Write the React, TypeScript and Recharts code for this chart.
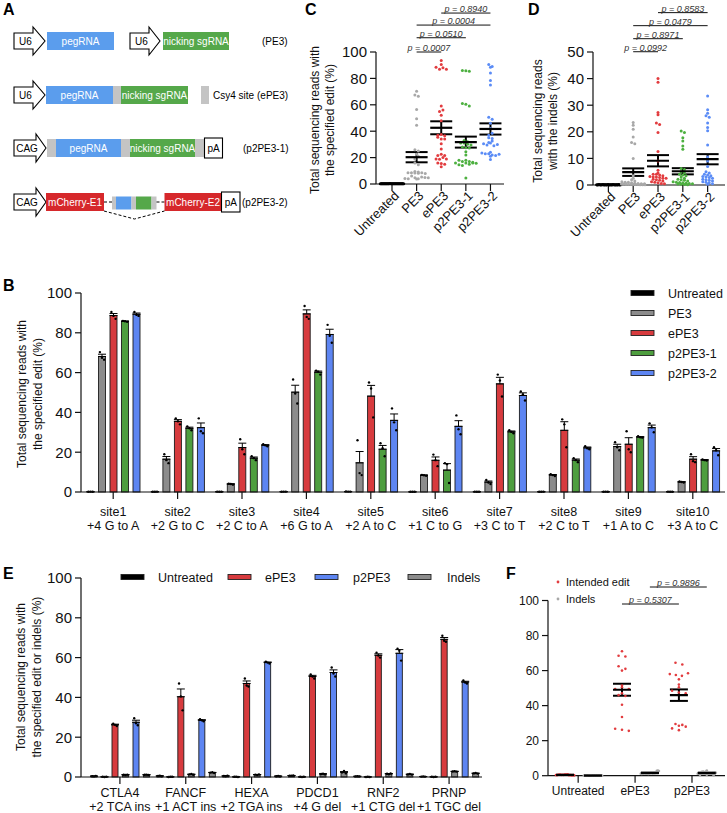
import React from 'react';
import { BarChart, Bar, XAxis, YAxis, ErrorBar, ScatterChart, Scatter, ReferenceLine } from 'recharts';

const FONT = '"Liberation Sans", Arial, Helvetica, sans-serif';

// ---------- B: % reads with the specified edit, 3 replicates per site ----------
const SITES = ['site1', 'site2', 'site3', 'site4', 'site5', 'site6', 'site7', 'site8', 'site9', 'site10'];
const SITE_EDITS = ['+4 G to A', '+2 G to C', '+2 C to A', '+6 G to A', '+2 A to C', '+1 C to G', '+3 C to T', '+2 C to T', '+1 A to C', '+3 A to C'];
const bUntreated = [[0.1, 0.2, 0.1], [0.1, 0.1, 0.2], [0.2, 0.1, 0.1], [0.1, 0.2, 0.2], [0.3, 0.2, 0.2], [0.1, 0.1, 0.1], [0.2, 0.1, 0.1], [0.1, 0.1, 0.2], [0.1, 0.2, 0.1], [0.2, 0.1, 0.1]];
const bPE3 = [[70.3, 67.5, 66.5], [19, 16, 14.5], [4.2, 4, 3.7], [56.5, 49.5, 44.5], [26, 9.5, 8.5], [8.6, 8.4, 8.2], [6, 4.8, 4], [9, 8.5, 8], [25, 22.5, 21], [5.3, 5, 4.8]];
const bEPE3 = [[90.5, 88.5, 87], [37, 35.5, 34], [26.5, 21.5, 19], [93.5, 88, 87], [55, 52, 37.5], [18.8, 16, 13], [59, 56, 48], [36.5, 34, 22.5], [30.5, 21.5, 20], [19, 15.5, 15]];
const bP2PE3_1 = [[86, 85.8, 85.5], [33, 32, 31], [18, 17, 16], [61, 60.5, 59], [24.5, 22, 18], [14.5, 14, 4.5], [31, 30.2, 29.5], [17, 16, 15], [28, 27.5, 27.3], [16.4, 16, 15.8]];
const bP2PE3_2 = [[90.5, 89, 88.5], [37, 30.5, 29.5], [24, 23.5, 23], [84, 78.5, 75], [42, 35, 31], [38.5, 31.5, 29], [50.5, 49, 46], [23, 22, 21.5], [34.5, 32.5, 30], [22.5, 21, 18.5]];

// ---------- C / D ----------
const GROUPS_CD = ['Untreated', 'PE3', 'ePE3', 'p2PE3-1', 'p2PE3-2'];
const dUntreated = [0.1, 0, 0.1, 0.2, 0.1, 0, 0.1, 0.1, 0.2, 0, 0.1, 0.1, 0, 0.1, 0.2, 0.1, 0, 0.1, 0.1, 0, 0.2, 0.1, 0.1, 0, 0.1, 0.1, 0, 0.2, 0.1, 0];
const dPE3 = [23.5, 22.5, 21, 18, 16, 15.5, 10, 3.5, 2.5, 2, 1.5, 1.2, 1, 1, 0.8, 0.7, 0.6, 0.5, 0.5, 0.4, 0.4, 0.3, 0.3, 0.3, 0.2, 0.2, 0.2, 0.1, 0.1, 0.1];
const dEPE3 = [40, 38.6, 27.3, 26.4, 23.3, 22.7, 19.7, 12.6, 9, 5.5, 4.5, 4, 4, 3.8, 3.5, 3.2, 3, 3, 2.8, 2.5, 2.5, 2.2, 2, 1.8, 1.5, 1.2, 1, 0.8, 0.6, 0.5];
const dP2PE3_1 = [20.3, 19.7, 17.8, 16.5, 14.7, 13.4, 6.2, 5.8, 5, 4.5, 4, 3.8, 3.5, 3, 2.5, 2.2, 2, 1.8, 1.5, 1.2, 1, 0.9, 0.8, 0.7, 0.6, 0.5, 0.4, 0.3, 0.2, 0.1];
const dP2PE3_2 = [33.5, 28.3, 27, 26, 25.5, 23.3, 21.6, 20.4, 15, 10.5, 9, 7, 5, 4.5, 4, 3.8, 3.5, 3.2, 3, 2.8, 2.5, 2.2, 2, 1.8, 1.5, 1.2, 1, 0.8, 0.5, 0.3];
const C_PAIRS = [[1, 2], [1, 3], [1, 4], [2, 4]];
const C_PVALS = ['0.0007', '0.0510', '0.0004', '0.8940'];
const D_PAIRS = [[1, 2], [1, 3], [1, 4], [2, 4]];
const D_PVALS = ['0.0992', '0.8971', '0.0479', '0.8583'];

// ---------- E / F: 6 loci, 3 replicates ----------
const E_GENES = ['CTLA4', 'FANCF', 'HEXA', 'PDCD1', 'RNF2', 'PRNP'];
const E_EDITS = ['+2 TCA ins', '+1 ACT ins', '+2 TGA ins', '+4 G del', '+1 CTG del', '+1 TGC del'];
const eUntreated = [[0.4, 0.3, 0.5], [0.5, 0.6, 0.4], [0.5, 0.4, 0.6], [0.7, 0.6, 0.8], [0.3, 0.4, 0.3], [0.2, 0.3, 0.2]];
const eUntreatedIndel = [[0.1, 0, 0.1], [0, 0.1, 0.1], [0.1, 0.1, 0], [0.1, 0, 0.1], [0, 0.1, 0], [0.1, 0, 0.1]];
const eEPE3 = [[26.8, 26.2, 25.6], [47, 40.5, 33.5], [49.5, 46, 45.5], [51.5, 50.5, 49.5], [62.5, 61, 60], [71, 68.5, 68]];
const eEPE3Indel = [[1.1, 1, 1.2], [1.3, 1.5, 1.1], [1.2, 1, 1.3], [1.5, 1.7, 1.3], [1.6, 1.4, 1.8], [2.8, 2.9, 2.7]];
const eP2PE3 = [[29.5, 27, 26], [29, 28.5, 28], [58, 57.5, 57], [55, 52, 50.5], [64.5, 63.5, 58.5], [48.5, 47.5, 47]];
const eP2PE3Indel = [[1.1, 1.2, 1], [2.2, 2.4, 2], [0.4, 0.5, 0.3], [2.3, 3, 1.8], [1.3, 1.5, 1.2], [1.8, 2, 1.7]];
const F_GROUPS = ['Untreated', 'ePE3', 'p2PE3'];
const F_PVALS = ['0.5307', '0.9896'];

// colours
const BLACK = '#000000';
const GRAY_BAR = '#8c8c8c';
const RED_BAR = '#d73b3e';
const GREEN_BAR = '#4e9e3f';
const BLUE_BAR = '#5d85f2';
const GRAY_PT = '#a8a8a8';
const RED_PT = '#e23c3f';
const GREEN_PT = '#4db040';
const BLUE_PT = '#5b8cf6';
const AX = { stroke: '#111', strokeWidth: 1.2 };
const TXT = '#111';

const mean = (a: number[]) => a.reduce((s, v) => s + v, 0) / a.length;
const sem = (a: number[]) => {
  const m = mean(a);
  const sd = Math.sqrt(a.reduce((s, v) => s + (v - m) ** 2, 0) / (a.length - 1));
  return sd / Math.sqrt(a.length);
};

// horizontal spread of points that share a value bin (prism-style scatter)
function swarm(values: number[], bin: number, step: number, maxW: number) {
  const groups = new Map<number, number[]>();
  values.forEach((v, i) => {
    const b = Math.round(v / bin);
    if (!groups.has(b)) groups.set(b, []);
    groups.get(b)!.push(i);
  });
  const offs = values.map(() => 0);
  groups.forEach((idx) => {
    const n = idx.length;
    const s = n > 1 ? Math.min(step, maxW / (n - 1)) : 0;
    idx.forEach((i, k) => { offs[i] = (k - (n - 1) / 2) * s; });
  });
  return offs;
}

function YTitle(props: any) {
  const { lines, cx, cy, gap = 16, size = 12 } = props;
  return (
    <text transform={`translate(${cx},${cy}) rotate(-90)`} textAnchor="middle" fontSize={size} fill={TXT}>
      {lines.map((l: string, i: number) => (
        <tspan key={i} x={0} dy={i === 0 ? 0 : gap}>{l}</tspan>
      ))}
    </text>
  );
}

function TwoLineTick(props: any) {
  const { x, y, payload, labels, sub, d1, d2, size } = props;
  const i = labels.indexOf(payload.value);
  return (
    <text x={x} y={y} textAnchor="middle" fontSize={size} fill={TXT}>
      <tspan x={x} dy={d1}>{payload.value}</tspan>
      <tspan x={x} dy={d2}>{sub[i]}</tspan>
    </text>
  );
}

function RotTick(props: any) {
  const { x, y, payload, names } = props;
  return (
    <text x={x} y={y} dx={3} dy={8} textAnchor="end" fontSize={13} fill={TXT} transform={`rotate(-45, ${x}, ${y})`}>
      {names[payload.value]}
    </text>
  );
}

function FlatTick(props: any) {
  const { x, y, payload, names } = props;
  return (
    <text x={x} y={y} dy={10} textAnchor="middle" fontSize={12} fill={TXT}>{names[payload.value]}</text>
  );
}

// bar with its replicate dots drawn on top
function repShape(repsKey: string, fill: string, yMax: number) {
  return (p: any) => {
    const { x, y, width, height, payload, background } = p;
    const reps: number[] = payload[repsKey] || [];
    let base = y + height;
    let scale = 0;
    if (background && background.height) {
      base = background.y + background.height;
      scale = background.height / yMax;
    } else if (p.value) {
      scale = height / p.value;
    }
    const cx = x + width / 2;
    return (
      <g>
        <rect x={x} y={y} width={width} height={Math.max(height, 0)} fill={fill} stroke="#1c1c1c" strokeWidth={0.9} />
        {reps.map((v, k) => (
          <circle key={k} cx={cx + (k - 1) * width * 0.3} cy={base - v * scale} r={1.2} fill="#000" />
        ))}
      </g>
    );
  };
}

type Ser = { key: string; name: string; reps: number[][]; fill: string };

function buildRows(labels: string[], series: Ser[], labelKey: string) {
  return labels.map((lab, i) => {
    const row: any = { [labelKey]: lab };
    series.forEach((s) => {
      row[s.key] = mean(s.reps[i]);
      row[s.key + 'Err'] = [0, sem(s.reps[i])];
      row[s.key + 'Reps'] = s.reps[i];
    });
    return row;
  });
}

const B_SERIES: Ser[] = [
  { key: 'untreated', name: 'Untreated', reps: bUntreated, fill: BLACK },
  { key: 'pe3', name: 'PE3', reps: bPE3, fill: GRAY_BAR },
  { key: 'epe3', name: 'ePE3', reps: bEPE3, fill: RED_BAR },
  { key: 'p2a', name: 'p2PE3-1', reps: bP2PE3_1, fill: GREEN_BAR },
  { key: 'p2b', name: 'p2PE3-2', reps: bP2PE3_2, fill: BLUE_BAR },
];

const E_SERIES: Ser[] = [
  { key: 'unt', name: 'Untreated', reps: eUntreated, fill: BLACK },
  { key: 'untIn', name: 'Indels', reps: eUntreatedIndel, fill: GRAY_BAR },
  { key: 'epe3', name: 'ePE3', reps: eEPE3, fill: RED_BAR },
  { key: 'epe3In', name: 'Indels', reps: eEPE3Indel, fill: GRAY_BAR },
  { key: 'p2', name: 'p2PE3', reps: eP2PE3, fill: BLUE_BAR },
  { key: 'p2In', name: 'Indels', reps: eP2PE3Indel, fill: GRAY_BAR },
];

function PanelB() {
  const data = buildRows(SITES, B_SERIES, 'site');
  return (
    <BarChart width={727} height={265} data={data} margin={{ top: 13, right: 2, bottom: 0, left: 0 }} barSize={7} barGap={4.5} barCategoryGap={0}>
      <XAxis dataKey="site" interval={0} height={53} tickSize={7} axisLine={AX} tickLine={AX}
        tick={<TwoLineTick labels={SITES} sub={SITE_EDITS} d1={15.3} d2={14} size={12.5} />} />
      <YAxis domain={[0, 100]} ticks={[0, 20, 40, 60, 80, 100]} width={81} tickSize={6} tickMargin={3} axisLine={AX} tickLine={AX}
        tick={{ fontSize: 15, fill: TXT }}
        label={<YTitle lines={['Total sequencing reads with', 'the specified edit (%)']} cx={25.5} cy={114} />} />
      {B_SERIES.map((s) => (
        <Bar key={s.key} dataKey={s.key} fill={s.fill} isAnimationActive={false} shape={repShape(s.key + 'Reps', s.fill, 100)}>
          <ErrorBar dataKey={s.key + 'Err'} width={4} stroke="#000" strokeWidth={1} direction="y" />
        </Bar>
      ))}
    </BarChart>
  );
}

function PanelE() {
  const data = buildRows(E_GENES, E_SERIES, 'gene');
  return (
    <BarChart width={500} height={253} data={data} margin={{ top: 18, right: 18, bottom: 0, left: 0 }} barSize={6} barGap={4.5} barCategoryGap={0}>
      <XAxis dataKey="gene" interval={0} height={36} tickSize={7} axisLine={AX} tickLine={AX} padding={{ left: 6, right: 0 }}
        tick={<TwoLineTick labels={E_GENES} sub={E_EDITS} d1={10.5} d2={14} size={12.5} />} />
      <YAxis domain={[0, 100]} ticks={[0, 20, 40, 60, 80, 100]} width={81} tickSize={6} tickMargin={3} axisLine={AX} tickLine={AX}
        tick={{ fontSize: 15, fill: TXT }}
        label={<YTitle lines={['Total sequencing reads with', 'the specified edit or indels (%)']} cx={24.5} cy={117} />} />
      {E_SERIES.map((s) => (
        <Bar key={s.key} dataKey={s.key} fill={s.fill} isAnimationActive={false} shape={repShape(s.key + 'Reps', s.fill, 100)}>
          <ErrorBar dataKey={s.key + 'Err'} width={4} stroke="#000" strokeWidth={1} direction="y" />
        </Bar>
      ))}
    </BarChart>
  );
}

type DotSet = { x: number; color: string; values: number[] };

function DotPanel(props: any) {
  const { width, height, margin, yWidth, xHeight, xDomain, xTicks, tick, yDomain, yTicks, yFont,
    sets, bin, step, maxW, meanW, capW, brackets, title, r } = props;
  return (
    <ScatterChart width={width} height={height} margin={margin}>
      <XAxis type="number" dataKey="x" domain={xDomain} ticks={xTicks} interval={0} allowDataOverflow height={xHeight}
        tickSize={7} axisLine={AX} tickLine={AX} tick={tick} />
      <YAxis type="number" dataKey="y" domain={yDomain} ticks={yTicks} width={yWidth} tickSize={6} tickMargin={3}
        axisLine={AX} tickLine={AX} tick={{ fontSize: yFont, fill: TXT }} label={title} />
      {sets.map((s: DotSet, i: number) => {
        const offs = swarm(s.values, bin, step, maxW);
        const pts = s.values.map((v, k) => ({ x: s.x + offs[k], y: v }));
        return (
          <Scatter key={'p' + i} data={pts} isAnimationActive={false}
            shape={(p: any) => <circle cx={p.cx} cy={p.cy} r={r} fill={s.color} />} />
        );
      })}
      {sets.map((s: DotSet, i: number) => (
        <Scatter key={'m' + i} data={[{ x: s.x, y: mean(s.values), err: sem(s.values) }]} isAnimationActive={false}
          shape={(p: any) => <line x1={p.cx - meanW / 2} x2={p.cx + meanW / 2} y1={p.cy} y2={p.cy} stroke="#000" strokeWidth={2.2} />}>
          <ErrorBar dataKey="err" direction="y" width={capW} stroke="#000" strokeWidth={2} />
        </Scatter>
      ))}
      {brackets.map((b: any, i: number) => (
        <ReferenceLine key={'b' + i} segment={[{ x: b.x1, y: b.y }, { x: b.x2, y: b.y }]} ifOverflow="visible"
          stroke="#111" strokeWidth={1}
          label={{ value: `p = ${b.p}`, position: 'top', offset: 1, fontSize: 9, fontStyle: 'italic', fill: '#333' }} />
      ))}
    </ScatterChart>
  );
}

function PanelC() {
  const sets: DotSet[] = [bUntreated, bPE3, bEPE3, bP2PE3_1, bP2PE3_2].map((reps, i) => ({
    x: i, color: [BLACK, GRAY_PT, RED_PT, GREEN_PT, BLUE_PT][i], values: reps.flat(),
  }));
  const levels = [100, 110.8, 120.4, 129.5];
  const brackets = C_PAIRS.map((pr, i) => ({ x1: pr[0], x2: pr[1], y: levels[i], p: C_PVALS[i] }));
  return (
    <DotPanel width={240} height={260} margin={{ top: 52, right: 6, bottom: 0, left: 0 }} yWidth={106} xHeight={76}
      xDomain={[-0.65, 4.55]} xTicks={[0, 1, 2, 3, 4]} tick={<RotTick names={GROUPS_CD} />}
      yDomain={[0, 100]} yTicks={[0, 20, 40, 60, 80, 100]} yFont={15}
      sets={sets} bin={2.5} step={0.14} maxW={0.95} meanW={22} capW={11} r={1.5} brackets={brackets}
      title={<YTitle lines={['Total sequencing reads with', 'the specified edit (%)']} cx={48.5} cy={120} gap={15} />} />
  );
}

function PanelD() {
  const sets: DotSet[] = [dUntreated, dPE3, dEPE3, dP2PE3_1, dP2PE3_2].map((vals, i) => ({
    x: i, color: [BLACK, GRAY_PT, RED_PT, GREEN_PT, BLUE_PT][i], values: vals,
  }));
  const levels = [50.1, 55, 59.9, 64.8];
  const brackets = D_PAIRS.map((pr, i) => ({ x1: pr[0], x2: pr[1], y: levels[i], p: D_PVALS[i] }));
  return (
    <DotPanel width={237} height={260} margin={{ top: 52, right: 2, bottom: 0, left: 0 }} yWidth={103} xHeight={75}
      xDomain={[-0.62, 4.7]} xTicks={[0, 1, 2, 3, 4]} tick={<RotTick names={GROUPS_CD} />}
      yDomain={[0, 50]} yTicks={[0, 10, 20, 30, 40, 50]} yFont={15}
      sets={sets} bin={1} step={0.13} maxW={0.95} meanW={22} capW={11} r={1.5} brackets={brackets}
      title={<YTitle lines={['Total sequencing reads', 'with the indels (%)']} cx={51.5} cy={121} gap={15} />} />
  );
}

function PanelF() {
  const groups = [[eUntreated, eUntreatedIndel], [eEPE3, eEPE3Indel], [eP2PE3, eP2PE3Indel]];
  const sets: DotSet[] = [];
  groups.forEach((g, i) => {
    sets.push({ x: i - 0.23, color: RED_PT, values: g[0].flat() });
    sets.push({ x: i + 0.26, color: GRAY_PT, values: g[1].flat() });
  });
  const brackets = [
    { x1: 0.77, x2: 1.77, y: 98, p: F_PVALS[0] },
    { x1: 1.26, x2: 2.26, y: 107.7, p: F_PVALS[1] },
  ];
  return (
    <DotPanel width={227} height={253} margin={{ top: 40.5, right: 2, bottom: 0, left: 0 }} yWidth={48} xHeight={37.3}
      xDomain={[-0.53, 2.58]} xTicks={[0, 1, 2]} tick={<FlatTick names={F_GROUPS} />}
      yDomain={[0, 100]} yTicks={[0, 20, 40, 60, 80, 100]} yFont={12}
      sets={sets} bin={2} step={0.12} maxW={0.32} meanW={18} capW={9} r={1.3} brackets={brackets} title={undefined} />
  );
}

// ---------- A: construct schematics + legends + panel letters ----------
const BLUE_A = '#5b9ded';
const GREEN_A = '#55a84a';
const RED_A = '#d6282b';
const GRAY_A = '#c4c4c4';

function Promoter({ x, cy, label, shaft, head }: any) {
  const pts = [
    [x, cy - 8], [x + shaft, cy - 8], [x + shaft, cy - 14], [x + shaft + head, cy], [x + shaft, cy + 14], [x + shaft, cy + 8], [x, cy + 8],
  ].map((p) => p.join(',')).join(' ');
  return (
    <g>
      <polygon points={pts} fill="#fff" stroke="#000" strokeWidth={1.1} />
      <text x={x + shaft / 2 + 2} y={cy + 3.6} textAnchor="middle" fontSize={10} fill="#000">{label}</text>
    </g>
  );
}

function Box({ x, x2, cy, h = 18, fill, label, color = '#fff' }: any) {
  return (
    <g>
      <rect x={x} y={cy - h / 2} width={x2 - x} height={h} fill={fill} />
      {label ? <text x={(x + x2) / 2} y={cy + 3.6} textAnchor="middle" fontSize={10} fill={color}>{label}</text> : null}
    </g>
  );
}

function PABox({ x, x2, cy }: any) {
  return (
    <g>
      <rect x={x} y={cy - 10} width={x2 - x} height={20} fill="#fff" stroke="#000" strokeWidth={1.1} />
      <text x={(x + x2) / 2} y={cy + 3.6} textAnchor="middle" fontSize={10} fill="#000">pA</text>
    </g>
  );
}

function Overlay() {
  const letter = { fontSize: 16, fontWeight: 700, fill: '#000' } as any;
  const bLegend = B_SERIES;
  const eLegend = [
    { name: 'Untreated', fill: BLACK, sx: 121, tx: 158 },
    { name: 'ePE3', fill: RED_BAR, sx: 228, tx: 265 },
    { name: 'p2PE3', fill: BLUE_BAR, sx: 315, tx: 353 },
    { name: 'Indels', fill: GRAY_BAR, sx: 408, tx: 447 },
  ];
  return (
    <svg width={727} height={813} style={{ position: 'absolute', left: 0, top: 0, pointerEvents: 'none' }}>
      <text x={3} y={15} {...letter}>A</text>
      <text x={3} y={291} {...letter}>B</text>
      <text x={305} y={15} {...letter}>C</text>
      <text x={528} y={15} {...letter}>D</text>
      <text x={3} y={579} {...letter}>E</text>
      <text x={506} y={579} {...letter}>F</text>

      {/* PE3 */}
      <Promoter x={14} cy={41} label="U6" shaft={19} head={12} />
      <Box x={47} x2={114} cy={41} fill={BLUE_A} label="pegRNA" />
      <Promoter x={130} cy={41} label="U6" shaft={19} head={11} />
      <Box x={163} x2={229} cy={41} fill={GREEN_A} label="nicking sgRNA" />
      <text x={262} y={45} fontSize={10}>(PE3)</text>

      {/* ePE3 */}
      <Promoter x={14} cy={95} label="U6" shaft={19} head={12} />
      <Box x={46} x2={113} cy={95} fill={BLUE_A} label="pegRNA" />
      <Box x={113} x2={121} cy={95} fill={GRAY_A} />
      <Box x={121} x2={188} cy={95} fill={GREEN_A} label="nicking sgRNA" />
      <Box x={201} x2={209} cy={95} fill={GRAY_A} />
      <text x={213} y={99} fontSize={10}>Csy4 site</text>
      <text x={257} y={99} fontSize={10}>(ePE3)</text>

      {/* p2PE3-1 */}
      <Promoter x={14} cy={148} label="CAG" shaft={22} head={10} />
      <Box x={47} x2={56} cy={148} fill={GRAY_A} />
      <Box x={56} x2={121} cy={148} fill={BLUE_A} label="pegRNA" />
      <Box x={121} x2={130} cy={148} fill={GRAY_A} />
      <Box x={130} x2={195} cy={148} fill={GREEN_A} label="nicking sgRNA" />
      <Box x={195} x2={204} cy={148} fill={GRAY_A} />
      <PABox x={204.5} x2={222.5} cy={148} />
      <text x={243} y={152} fontSize={10}>(p2PE3-1)</text>

      {/* p2PE3-2 */}
      <Promoter x={14} cy={202} label="CAG" shaft={22} head={10} />
      <Box x={46} x2={104} cy={202} fill={RED_A} label="mCherry-E1" />
      <line x1={104} x2={113} y1={202} y2={202} stroke="#000" strokeDasharray="3,2" />
      <Box x={112} x2={116} cy={203} h={13} fill={GRAY_A} />
      <Box x={116} x2={131.5} cy={203} h={13} fill={BLUE_A} />
      <Box x={131.5} x2={136} cy={203} h={13} fill={GRAY_A} />
      <Box x={136} x2={151.5} cy={203} h={13} fill={GREEN_A} />
      <Box x={151.5} x2={156.5} cy={203} h={13} fill={GRAY_A} />
      <line x1={156.5} x2={164.5} y1={202} y2={202} stroke="#000" strokeDasharray="3,2" />
      <Box x={164.5} x2={221.5} cy={202} fill={RED_A} label="mCherry-E2" />
      <PABox x={221.5} x2={240} cy={202} />
      <polyline points="104,211 134.5,219 164.5,211" fill="none" stroke="#000" strokeDasharray="3,2" />
      <text x={242} y={206} fontSize={10}>(p2PE3-2)</text>

      {/* B legend */}
      {bLegend.map((s, i) => (
        <g key={s.key}>
          <rect x={631} y={290.5 + i * 20} width={23} height={5} fill={s.fill} stroke="#222" strokeWidth={0.9} />
          <text x={668} y={297.5 + i * 20} fontSize={12.5} fill={TXT}>{s.name}</text>
        </g>
      ))}

      {/* E legend */}
      {eLegend.map((s) => (
        <g key={s.name}>
          <rect x={s.sx} y={574.5} width={23} height={5} fill={s.fill} stroke="#222" strokeWidth={0.9} />
          <text x={s.tx} y={581.5} fontSize={12.5} fill={TXT}>{s.name}</text>
        </g>
      ))}

      {/* F legend */}
      <circle cx={558} cy={582} r={1.4} fill={RED_PT} />
      <text x={566} y={586} fontSize={11} fill={TXT}>Intended edit</text>
      <circle cx={558} cy={599} r={1.4} fill={GRAY_PT} />
      <text x={566} y={603} fontSize={11} fill={TXT}>Indels</text>
    </svg>
  );
}

export default function App() {
  return (
    <div style={{ position: 'absolute', left: 0, top: 0, width: 727, height: 813, background: '#fff', fontFamily: FONT, overflow: 'hidden' }}>
      <div style={{ position: 'absolute', left: 0, top: 280 }}><PanelB /></div>
      <div style={{ position: 'absolute', left: 270, top: 0 }}><PanelC /></div>
      <div style={{ position: 'absolute', left: 490, top: 0 }}><PanelD /></div>
      <div style={{ position: 'absolute', left: 0, top: 560 }}><PanelE /></div>
      <div style={{ position: 'absolute', left: 500, top: 560 }}><PanelF /></div>
      <Overlay />
    </div>
  );
}
